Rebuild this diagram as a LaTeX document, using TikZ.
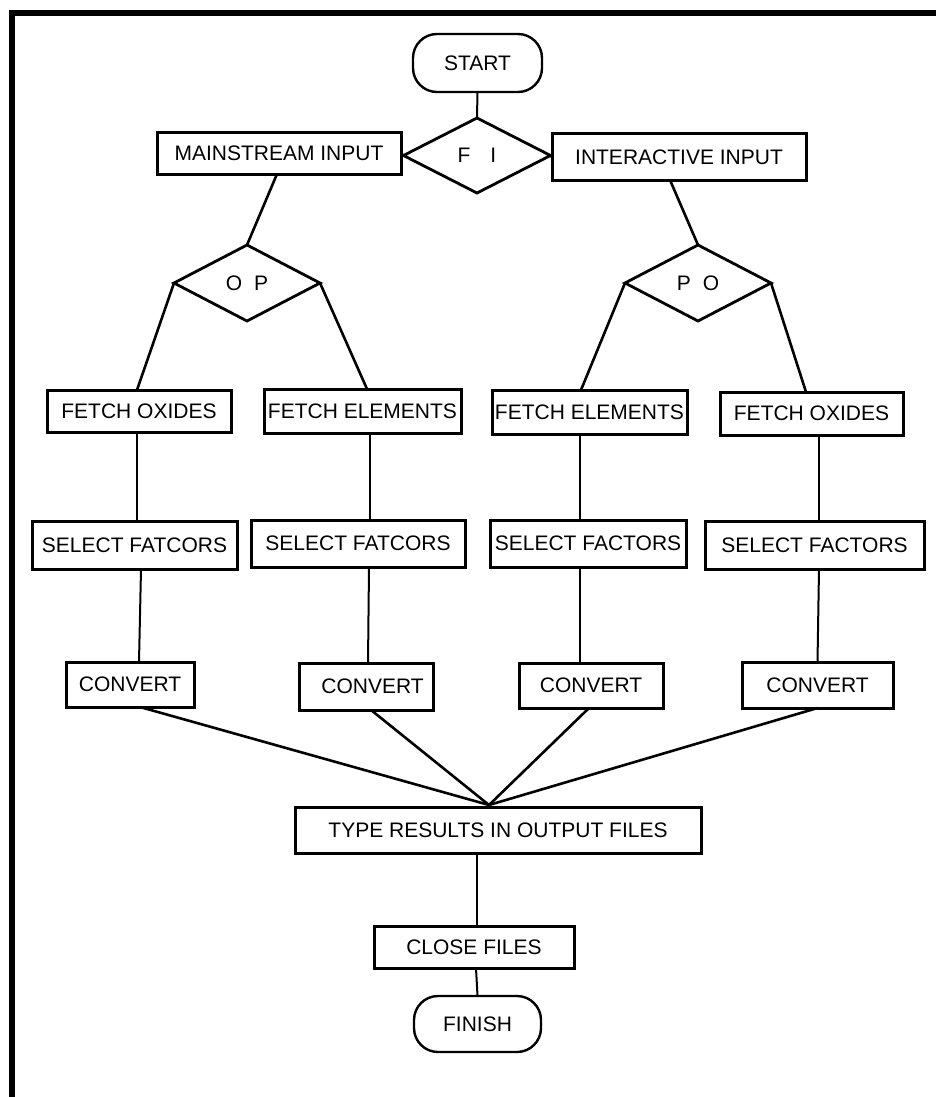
\documentclass[tikz,border=0pt]{standalone}
\usepackage{fontspec}
\setmainfont{Liberation Sans}
\usetikzlibrary{shapes.geometric,calc}
\begin{document}
\begin{tikzpicture}[x=1pt,y=-1pt,
  every node/.style={font=\fontsize{21}{25}\selectfont, inner sep=0pt, outer sep=0pt},
  box/.style={draw, rectangle, line width=3pt},
  term/.style={draw, rectangle, rounded corners=24pt, line width=2.4pt},
  dia/.style={draw, diamond, line width=2.8pt},
  conn/.style={line width=2pt},
  dconn/.style={line width=2.6pt},
  frame/.style={line width=6pt}]
\useasboundingbox (0,0) rectangle (935,1097);
% frame
\coordinate (fbl) at (12,1110);
\coordinate (ftl) at (12,13);
\coordinate (ftr) at (950,13);
\draw[frame] (fbl) -- (ftl) -- (ftr);

% top part
\node[term, minimum width=129pt, minimum height=58pt] (start) at (477.5,63) {START};
\node[dia, minimum width=147pt, minimum height=75pt] (fi) at (477,155.5) {F\hspace{20pt}I};
\node[box, minimum width=244pt, minimum height=41pt] (ms) at (279,153.5) {MAINSTREAM INPUT};
\node[box, minimum width=254pt, minimum height=46pt] (ii) at (679,157) {INTERACTIVE INPUT};
\node[dia, minimum width=146pt, minimum height=76pt] (op) at (247,283) {O\hspace{12pt}P};
\node[dia, minimum width=146pt, minimum height=76pt] (po) at (698,283) {P\hspace{12pt}O};

% row 1
\node[box, minimum width=184pt, minimum height=42pt] (fo1) at (139,411) {FETCH OXIDES};
\node[box, minimum width=197pt, minimum height=44pt] (fe1) at (362.5,411) {FETCH ELEMENTS};
\node[box, minimum width=195pt, minimum height=44pt] (fe2) at (589.5,412) {FETCH ELEMENTS};
\node[box, minimum width=183pt, minimum height=43pt] (fo2) at (811.5,413.5) {FETCH OXIDES};

% row 2
\node[box, minimum width=205pt, minimum height=48pt] (sf1) at (134.5,545) {SELECT FATCORS};
\node[box, minimum width=214pt, minimum height=47pt] (sf2) at (358,543.5) {SELECT FATCORS};
\node[box, minimum width=196pt, minimum height=47pt] (sf3) at (588,543.5) {SELECT FACTORS};
\node[box, minimum width=219pt, minimum height=48pt] (sf4) at (814.5,545) {SELECT FACTORS};

% row 3
\node[box, minimum width=128pt, minimum height=45pt] (cv1) at (130,684.5) {CONVERT};
\node[box, minimum width=134pt, minimum height=47pt] (cv2) at (366,686.5) {\hspace{13pt}CONVERT};
\node[box, minimum width=144pt, minimum height=45pt] (cv3) at (591,685.5) {CONVERT};
\node[box, minimum width=151pt, minimum height=46pt] (cv4) at (817.5,685) {CONVERT};

% bottom
\node[box, minimum width=406pt, minimum height=46pt] (tr) at (498,830) {TYPE RESULTS IN OUTPUT FILES\hspace{24pt}};
\node[box, minimum width=200pt, minimum height=42pt] (cf) at (474,947) {CLOSE FILES};
\node[term, minimum width=127pt, minimum height=56pt] (fin) at (477.5,1024) {FINISH};
\coordinate (join) at (489,805);

% connectors
\draw[conn] (start.south) -- (fi.north);
\draw[dconn] (fi.west) -- (ms.east);
\draw[dconn] (fi.east) -- (ii.west);
\draw[dconn] ([xshift=-2pt]ms.south) -- (op.north);
\draw[dconn] ([xshift=-9pt]ii.south) -- (po.north);
\draw[dconn] (op.west) -- ([xshift=-2pt]fo1.north);
\draw[dconn] (op.east) -- ([xshift=4.5pt]fe1.north);
\draw[dconn] (po.west) -- ([xshift=-8.5pt]fe2.north);
\draw[dconn] (po.east) -- ([xshift=-5.5pt]fo2.north);

\draw[conn] ([xshift=-2pt]fo1.south) -- ([xshift=2.5pt]sf1.north);
\draw[conn] ([xshift=7.5pt]fe1.south) -- ([xshift=12pt]sf2.north);
\draw[conn] ([xshift=-9.5pt]fe2.south) -- ([xshift=-8pt]sf3.north);
\draw[conn] ([xshift=7.5pt]fo2.south) -- ([xshift=4.5pt]sf4.north);

\draw[conn] ([xshift=6.5pt]sf1.south) -- ([xshift=9pt]cv1.north);
\draw[conn] ([xshift=11pt]sf2.south) -- ([xshift=2pt]cv2.north);
\draw[conn] ([xshift=-8pt]sf3.south) -- ([xshift=-11pt]cv3.north);
\draw[conn] ([xshift=4.5pt]sf4.south) -- (cv4.north);

\draw[dconn] ([xshift=10pt]cv1.south) -- (join);
\draw[dconn] ([xshift=5pt]cv2.south) -- (join);
\draw[dconn] ([xshift=-2pt]cv3.south) -- (join);
\draw[dconn] (cv4.south) -- (join);

\draw[conn] ([xshift=-21pt]tr.south) -- ([xshift=3pt]cf.north);
\draw[conn] ([xshift=2pt]cf.south) -- (fin.north);
\end{tikzpicture}
\end{document}
